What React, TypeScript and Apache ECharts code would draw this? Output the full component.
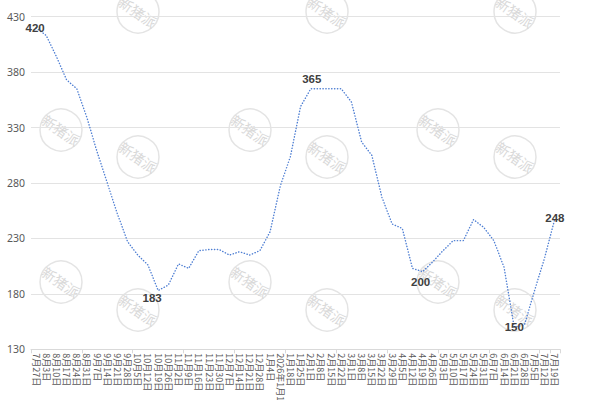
import React, { useEffect, useRef } from "react";
import * as echarts from "echarts";

const categories = [
  "7月27日", "8月3日", "8月10日", "8月17日", "8月24日", "8月31日", "9月7日", "9月14日", "9月21日", "9月28日",
  "10月5日", "10月12日", "10月19日", "10月26日", "11月2日", "11月9日", "11月16日", "11月23日", "11月30日", "12月7日",
  "12月14日", "12月21日", "12月28日", "1月4日", "2026年1月11日", "1月18日", "1月25日", "2月1日", "2月8日", "2月15日",
  "2月22日", "3月1日", "3月8日", "3月15日", "3月22日", "3月29日", "4月5日", "4月12日", "4月19日", "4月26日",
  "5月3日", "5月10日", "5月17日", "5月24日", "5月31日", "6月7日", "6月14日", "6月21日", "6月28日", "7月5日",
  "7月12日", "7月19日",
];

const prices = [
  420, 413, 394, 373, 365, 339, 308, 280, 252, 227,
  215, 206, 183, 188, 207, 203, 219, 220, 220, 215,
  218, 215, 219, 236, 277, 304, 349, 365, 365, 365,
  365, 353, 317, 305, 267, 243, 239, 203, 200, 209,
  219, 228, 228, 247, 240, 228, 204, 150, 152, 183,
  213, 248,
];

const yTicks = { min: 130, max: 430, interval: 50 };

// indices of the labelled points and the label offset from each point
const labelledIndex = [0, 12, 27, 38, 47, 51];
const labelOffsets: number[][] = [[-1, 0], [-6, 7], [1, -10], [-2, 10], [0, 0], [0, 0]];

// watermark centres
const watermarks: number[][] = [
  [138, 12], [327, 12], [515, 12],
  [61, 130], [250, 130], [438, 130],
  [138, 157], [327, 157], [515, 157],
  [61, 282], [250, 282], [438, 282],
  [138, 310], [327, 310], [515, 310],
];

export default function App() {
  const ref = useRef<HTMLDivElement>(null);
  useEffect(() => {
    if (!ref.current) return;
    const chart = echarts.init(ref.current, null, { renderer: "svg" });
    const data = prices.map((v, i) => {
      const k = labelledIndex.indexOf(i);
      if (k < 0) return v;
      return {
        value: v,
        label: {
          show: true,
          position: "inside",
          offset: labelOffsets[k],
          formatter: String(v),
        },
      };
    });
    chart.setOption({
      animation: false,
      backgroundColor: "#ffffff",
      grid: {
        left: 31,
        right: 40,
        top: 16.7,
        bottom: 50.7,
        containLabel: false,
        outerBoundsMode: "none",
      },
      xAxis: {
        type: "category",
        data: categories,
        boundaryGap: true,
        axisLine: { lineStyle: { color: "#d9d9d9", width: 1 } },
        axisTick: { show: true, interval: 4, length: 4, lineStyle: { color: "#d9d9d9" } },
        axisLabel: {
          interval: 0,
          rotate: -90,
          fontSize: 9,
          color: "#595959",
          margin: 4,
          fontFamily: "Noto Sans CJK SC",
          hideOverlap: false,
        },
        splitLine: { show: false },
      },
      yAxis: {
        type: "value",
        min: yTicks.min,
        max: yTicks.max,
        interval: yTicks.interval,
        axisLine: { show: false },
        axisTick: { show: false },
        axisLabel: { fontSize: 10.5, color: "#595959", margin: 6, fontFamily: "Noto Sans" },
        splitLine: { lineStyle: { color: "#e3e3e3", width: 1 } },
      },
      graphic: watermarks.map(([x, y]) => ({
        type: "group",
        x,
        y,
        z: 1,
        silent: true,
        children: [
          {
            type: "circle",
            shape: { cx: 0, cy: 0, r: 21 },
            style: { fill: "none", stroke: "#e4e4e4", lineWidth: 1.5 },
          },
          {
            type: "text",
            x: 0,
            y: 0,
            rotation: -0.6,
            style: {
              text: "新猪派",
              fill: "#d9d9d9",
              fontSize: 14,
              fontWeight: "normal",
              fontFamily: "Noto Sans CJK SC",
              align: "center",
              verticalAlign: "middle",
            },
          },
        ],
      })),
      series: [
        {
          type: "line",
          data,
          z: 3,
          symbol: "circle",
          symbolSize: 1,
          showSymbol: true,
          itemStyle: { color: "rgba(0,0,0,0)" },
          lineStyle: { color: "#4f7fd3", width: 1.4, type: [0.3, 2.6], cap: "round" },
          label: {
            show: false,
            fontSize: 11.5,
            fontWeight: "bold",
            color: "#404040",
            fontFamily: "Liberation Sans",
          },
          emphasis: { disabled: true },
        },
      ],
    });
    return () => chart.dispose();
  }, []);
  return (
    <div
      ref={ref}
      style={{ position: "absolute", left: 0, top: 0, width: 600, height: 400 }}
    />
  );
}
